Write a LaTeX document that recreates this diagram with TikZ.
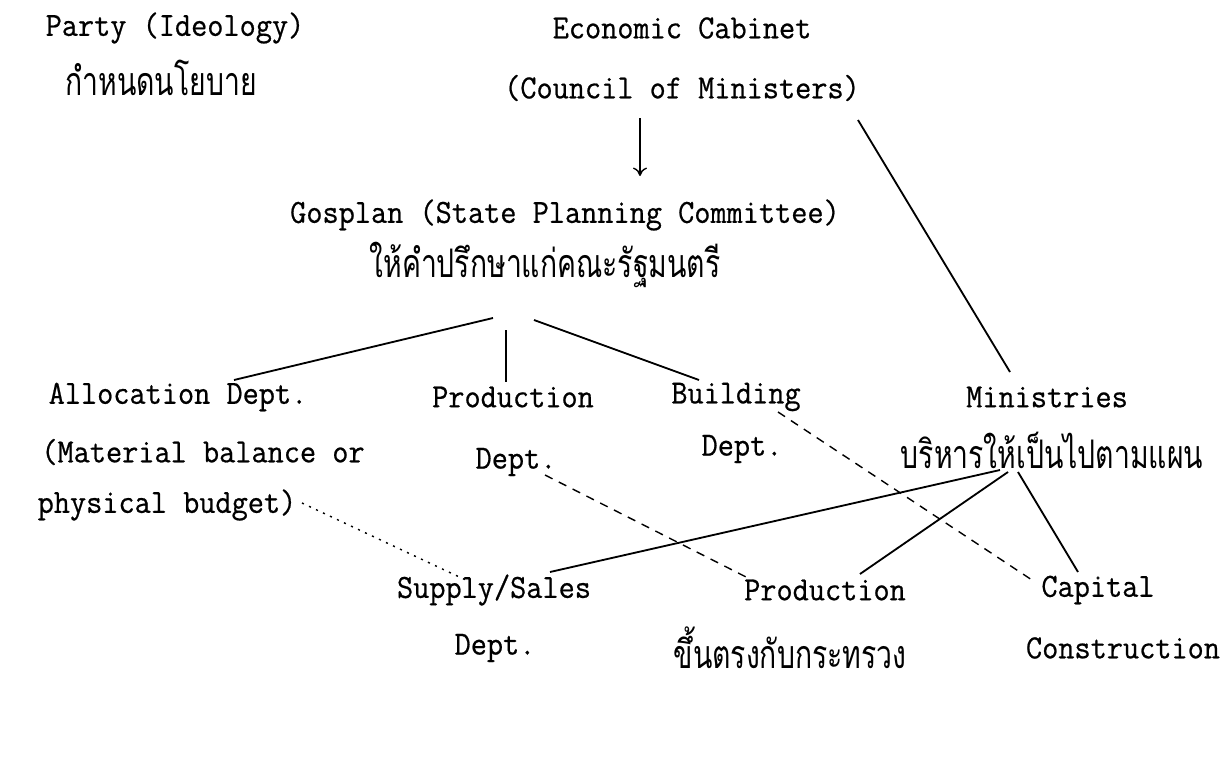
\documentclass[tikz,border=0pt]{standalone}
\usepackage{fontspec}
\newfontfamily\typewriter{Latin Modern Mono}[FakeBold=0.6, FakeStretch=0.93]
\newfontfamily\thaifont[Script=Thai, FakeStretch=0.72]{Loma}
\usepackage{tikz}
\usetikzlibrary{positioning}
\usetikzlibrary{arrows.meta}

\begin{document}
\begin{tikzpicture}[
      x=0.025cm, y=-0.025cm,
      txt/.style={font=\typewriter\fontsize{24}{28}\selectfont, inner sep=0pt},
      thai/.style={font=\thaifont\fontsize{28}{32}\selectfont, inner sep=0pt},
      rule/.style={line width=1.3pt},
      dotrule/.style={dash pattern=on 1.5pt off 4pt, line width=1pt},
      dashrule/.style={dash pattern=on 6pt off 5pt, line width=1pt},
      flow/.style={-{To[length=6pt,width=10pt]}, line width=1pt}
    ]
    \useasboundingbox (0,0) rectangle (1232,757);
    % top
    \node(party)[txt] at (175,28) {Party (Ideology)};
    \node(policy)[thai] at (161,78) {กำหนดนโยบาย};
    \node(cabinet)[txt] at (682,28) {Economic Cabinet};
    \node(council)[txt] at (682,88) {(Council of Ministers)};
    \node(gosplan)[txt] at (565,215) {Gosplan (State Planning Committee)};
    \node(advise)[thai] at (545,265) {ให้คำปรึกษาแก่คณะรัฐมนตรี};
    % departments
    \node(alloc)[txt] at (178,397) {Allocation Dept.};
    \node(allocb)[txt] at (203,452) {(Material balance or};
    \node(allocc)[txt] at (167,505) {physical budget)};
    \node(prod)[txt] at (513,397) {Production};
    \node(prodb)[txt] at (516,462) {Dept.};
    \node(build)[txt] at (736,397) {Building};
    \node(buildb)[txt] at (742,449) {Dept.};
    \node(mins)[txt] at (1047,397) {Ministries};
    \node(admin)[thai] at (1052,450) {บริหารให้เป็นไปตามแผน};
    % enterprises
    \node(supply)[txt] at (494,590) {Supply/Sales};
    \node(supplyb)[txt] at (495,648) {Dept.};
    \node(output)[txt] at (825,590) {Production};
    \node(direct)[thai] at (790,648) {ขึ้นตรงกับกระทรวง};
    \node(capital)[txt] at (1098,590) {Capital};
    \node(capitalb)[txt] at (1123,648) {Construction};

    \draw [flow] ([shift={(-42,30)}]council.center) -- ([shift={(75,-39)}]gosplan.center);
    \draw [rule] ([shift={(-52,53)}]advise.center) -- ([shift={(56,-17)}]alloc.center);
    \draw [rule] ([shift={(-39,65)}]advise.center) -- ([shift={(-7,-15)}]prod.center);
    \draw [rule] ([shift={(-11,55)}]advise.center) -- ([shift={(-37,-17)}]build.center);
    \draw [rule] ([shift={(176,32)}]council.center) -- ([shift={(-37,-25)}]mins.center);
    \draw [rule] ([shift={(-52,20)}]admin.center) -- ([shift={(56,-18)}]supply.center);
    \draw [rule] ([shift={(-44,22)}]admin.center) -- ([shift={(35,-16)}]output.center);
    \draw [rule] ([shift={(-34,22)}]admin.center) -- ([shift={(-20,-18)}]capital.center);
    \draw [dotrule] ([shift={(135,-2)}]allocc.center) -- ([shift={(-24,-8)}]supply.center);
    \draw [dashrule] ([shift={(29,13)}]prodb.center) -- ([shift={(-73,-10)}]output.center);
    \draw [dashrule] ([shift={(42,15)}]build.center) -- ([shift={(-63,-8)}]capital.center);
    \end{tikzpicture}
\end{document}
